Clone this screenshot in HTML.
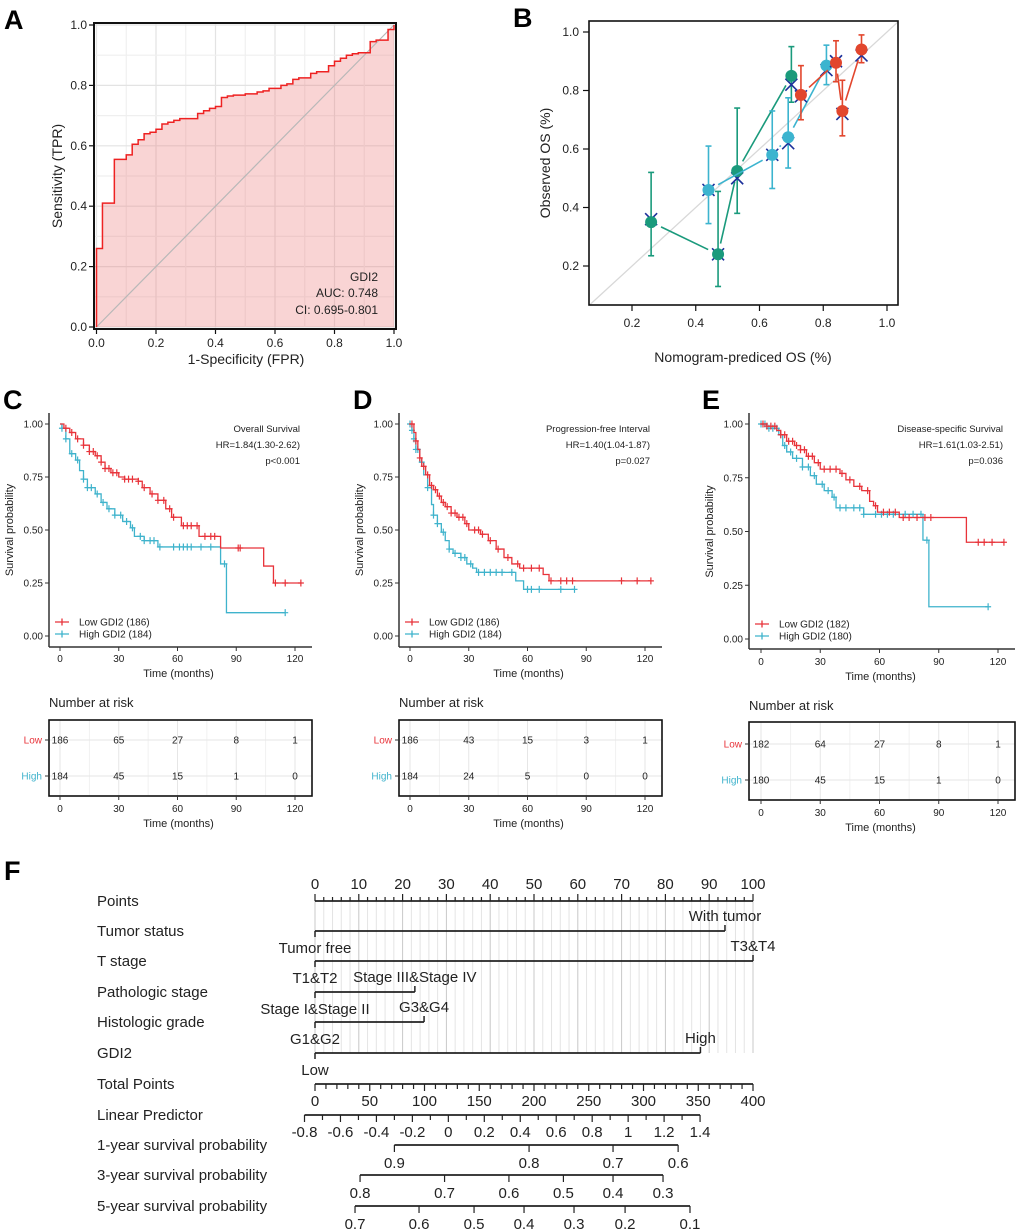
<!DOCTYPE html>
<html><head><meta charset="utf-8">
<style>
html,body{margin:0;padding:0;background:#fff;}
svg{display:block;font-family:"Liberation Sans",Arial,sans-serif;}
.nar{font-family:"Liberation Sans Narrow","Liberation Sans",sans-serif;}
</style></head>
<body>
<svg id="chart" width="1020" height="1232" viewBox="0 0 1020 1232" xmlns="http://www.w3.org/2000/svg">
<rect x="0" y="0" width="1020" height="1232" fill="#fff"/>
<text x="4" y="29" font-size="27" font-weight="bold">A</text>
<text x="513" y="27" font-size="27" font-weight="bold">B</text>
<text x="3" y="409" font-size="27" font-weight="bold">C</text>
<text x="353" y="409" font-size="27" font-weight="bold">D</text>
<text x="702" y="409" font-size="27" font-weight="bold">E</text>
<text x="4" y="880" font-size="27" font-weight="bold">F</text>
</svg>
<script>
// ---------- Panel A data (ROC) ----------
const rocFpr = [0,0.02,0.06,0.10,0.12,0.14,0.16,0.18,0.20,0.22,0.24,0.26,0.28,0.34,0.36,0.38,0.40,0.42,0.44,0.46,0.50,0.54,0.56,0.58,0.60,0.62,0.64,0.66,0.68,0.72,0.74,0.78,0.80,0.82,0.84,0.86,0.88,0.92,0.94,0.98,1.0];
const rocTpr = [0.26,0.41,0.555,0.57,0.605,0.62,0.64,0.645,0.655,0.672,0.678,0.684,0.69,0.707,0.716,0.724,0.73,0.76,0.765,0.768,0.772,0.778,0.782,0.79,0.79,0.80,0.805,0.82,0.825,0.84,0.845,0.865,0.88,0.89,0.90,0.905,0.908,0.945,0.95,0.985,1.0];
const rocTicks = [0,0.2,0.4,0.6,0.8,1.0];
const rocTickLabels = ["0.0","0.2","0.4","0.6","0.8","1.0"];

// ---------- Panel B data (calibration) ----------
const calNames = ["1-year","3-year","5-year"];
const calColors = ["#1a9a7c","#3cb4cf","#e2462d"];
const calPred = [[0.26,0.47,0.53,0.70],[0.44,0.64,0.69,0.81],[0.73,0.84,0.86,0.92]];
const calObs  = [[0.35,0.24,0.525,0.85],[0.46,0.58,0.64,0.885],[0.785,0.895,0.73,0.94]];
const calLo   = [[0.235,0.13,0.38,0.76],[0.345,0.465,0.535,0.82],[0.70,0.83,0.645,0.895]];
const calHi   = [[0.52,0.455,0.74,0.95],[0.61,0.73,0.775,0.955],[0.885,0.97,0.835,0.99]];
const calCorr = [[0.36,0.24,0.50,0.82],[0.46,0.58,0.62,0.87],[0.78,0.90,0.72,0.92]];
const calTicks = [0.2,0.4,0.6,0.8,1.0];
const calTickLabels = ["0.2","0.4","0.6","0.8","1.0"];

// ---------- Panels C-E data (KM) ----------
const kmTicks = [0,30,60,90,120];
const kmYTicks = [0,0.25,0.5,0.75,1.0];
const kmYLabels = ["0.00","0.25","0.50","0.75","1.00"];
// C
const cLowT = [2,5,8,12,15,18,21,23,26,30,33,40,42,46,50,54,57,62,71,82,104,109];
const cLowS = [0.98,0.96,0.93,0.90,0.87,0.85,0.82,0.79,0.77,0.75,0.74,0.73,0.70,0.67,0.64,0.60,0.56,0.52,0.47,0.415,0.33,0.25];
const cLowCens = [3,6,9,12,15,17,19,21,23,25,27,29,33,35,37,40,43,47,50,53,56,58,63,65,67,70,74,77,79,91,92,110,115,123];
const cHighT = [1,3,5,8,10,12,14,18,21,24,28,32,36,38,43,50,82,85];
const cHighS = [0.98,0.93,0.86,0.83,0.78,0.74,0.70,0.67,0.63,0.60,0.57,0.54,0.51,0.47,0.45,0.42,0.34,0.11];
const cHighCens = [1,3,6,9,12,14,16,19,22,25,28,31,34,37,41,43,46,48,51,58,61,63,65,67,72,77,84,115];
const cRiskLow = [186,65,27,8,1];
const cRiskHigh = [184,45,15,1,0];
// D
const dLowT = [2,3,4,5,6,8,10,12,14,16,18,21,24,28,30,36,40,44,48,52,56,68,71];
const dLowS = [0.96,0.92,0.88,0.84,0.80,0.76,0.71,0.69,0.66,0.63,0.61,0.58,0.56,0.53,0.50,0.48,0.45,0.41,0.37,0.34,0.32,0.29,0.26];
const dLowCens = [1,3,5,7,9,11,13,15,17,19,21,23,25,27,29,33,35,37,41,45,50,55,58,62,66,72,77,80,83,108,116,123];
const dHighT = [1,2,3,5,7,9,11,12,14,16,18,20,22,26,29,32,34,54,58];
const dHighS = [0.97,0.93,0.88,0.82,0.76,0.70,0.62,0.57,0.53,0.49,0.45,0.41,0.39,0.37,0.34,0.32,0.30,0.26,0.22];
const dHighCens = [0,1,2,3,4,6,9,12,14,17,20,23,26,28,31,35,38,41,44,47,52,60,62,66,77,84];
const dRiskLow = [186,43,15,3,1];
const dRiskHigh = [184,24,5,0,0];
// E
const eLowT = [3,8,10,13,17,20,23,27,30,40,43,47,51,55,57,59,70,104];
const eLowS = [0.99,0.97,0.95,0.92,0.90,0.88,0.85,0.82,0.79,0.77,0.74,0.71,0.69,0.64,0.62,0.59,0.565,0.45];
const eLowCens = [1,3,5,7,10,12,14,16,18,20,22,24,26,29,32,35,38,41,45,50,54,58,62,65,68,72,75,79,83,86,110,113,117,123];
const eHighT = [3,9,11,13,16,21,25,28,32,36,38,52,82,85];
const eHighS = [0.98,0.95,0.90,0.87,0.84,0.80,0.76,0.72,0.69,0.66,0.61,0.58,0.46,0.15];
const eHighCens = [0,2,4,6,8,10,12,15,18,21,24,27,31,34,37,40,43,47,50,52,58,61,64,67,73,77,81,84,115];
const eRiskLow = [182,64,27,8,1];
const eRiskHigh = [180,45,15,1,0];

// ---------- Panel F data (nomogram) ----------
const nomoRows = ["Tumor status","T stage","Pathologic stage","Histologic grade","GDI2"];
const nomoMaxPts = [93.6,100,22.8,24.9,88];
const nomoHighLbl = ["With tumor","T3&T4","Stage III&Stage IV","G3&G4","High"];
const nomoLowLbl = ["Tumor free","T1&T2","Stage I&Stage II","G1&G2","Low"];
const lpTicks = [-0.8,-0.6,-0.4,-0.2,0,0.2,0.4,0.6,0.8,1,1.2,1.4];
const surv1Vals = [0.9,0.8,0.7,0.6];
const surv1Lp = [-0.30,0.449,0.916,1.278];
const surv3Vals = [0.8,0.7,0.6,0.5,0.4,0.3];
const surv3Lp = [-0.491,-0.021,0.337,0.640,0.916,1.194];
const surv5Vals = [0.7,0.6,0.5,0.4,0.3,0.2,0.1];
const surv5Lp = [-0.519,-0.163,0.143,0.421,0.699,0.983,1.344];

const NS = "http://www.w3.org/2000/svg";
const svg = document.getElementById('chart');
function mk(tag, attrs, parent){
  const e = document.createElementNS(NS, tag);
  for (const k in attrs) e.setAttribute(k, attrs[k]);
  (parent || svg).appendChild(e);
  return e;
}
function tx(x, y, s, size, anchor, fill, parent, cls){
  const e = mk('text', {x:x, y:y, 'font-size':size, 'text-anchor':anchor||'start', fill:fill||'#222'}, parent);
  if (cls) e.setAttribute('class', cls);
  e.textContent = s;
  return e;
}
function ln(x1,y1,x2,y2,stroke,w,parent){
  return mk('line',{x1:x1,y1:y1,x2:x2,y2:y2,stroke:stroke,'stroke-width':w},parent);
}

// ================= Panel A =================
(function(){
  const g = mk('g',{});
  
  
  const ax = f => 96.5 + f*297.5;
  const ay = t => 327 - t*302;
  for (let i=0;i<=10;i++){
    const v = i/10;
    const c = (i%2===0)?'#e3e3e3':'#efefef';
    const gx = ln(ax(v),23,ax(v),329,c,1.2,g);
    
    
    const gy = ln(94,ay(v),396,ay(v),c,1.2,g);
    
    
  }
  let d = 'M'+ax(0)+','+ay(0);
  for (let i=0;i<rocFpr.length;i++){ d += ' H'+ax(rocFpr[i])+' V'+ay(rocTpr[i]); }
  const area = mk('path',{d:d+' V'+ay(0)+' Z',fill:'rgba(236,120,120,0.32)',stroke:'none'},g);
  
  
  const diag = ln(ax(0),ay(0),ax(1),ay(1),'#b8b8b8',1.2,g);
  
  
  const curve = mk('path',{d:d,fill:'none',stroke:'#ee2222','stroke-width':1.5},g);
  
  
  const fr = mk('rect',{x:94,y:23,width:302,height:306,fill:'none',stroke:'#111','stroke-width':2},g);
  
  
  for (let i=0;i<rocTicks.length;i++){
    const v = rocTicks[i];
    const t1 = ln(89,ay(v),94,ay(v),'#111',1.2,g);
    
    
    const l1 = tx(87,ay(v)+4,rocTickLabels[i],12,'end','#222',g);
    
    
    const t2 = ln(ax(v),329,ax(v),334,'#111',1.2,g);
    
    
    const l2 = tx(ax(v),347,rocTickLabels[i],12,'middle','#222',g);
    
    
  }
  const xt = tx(246,364,'1-Specificity (FPR)',14,'middle','#222',g);
  
  
  const yt = tx(0,0,'Sensitivity (TPR)',14,'middle','#222',g);
  yt.setAttribute('transform','translate(62,176) rotate(-90)');
  
  
  const a1 = tx(378,281,'GDI2',12,'end','#222',g);
  
  
  const a2 = tx(378,297,'AUC: 0.748',12,'end','#222',g);
  
  
  const a3 = tx(378,314,'CI: 0.695-0.801',12,'end','#222',g);
  
  
})();

// ================= Panel B =================
(function(){
  const g = mk('g',{});
  
  
  const bx = v => 632 + (v-0.2)*318.75;
  const by = v => 266 - (v-0.2)*292.5;
  const diag = ln(bx(0.065),by(0.065),bx(1.035),by(1.035),'#d8d8d8',1.3,g);
  
  
  for (let s=0;s<calPred.length;s++){
    const col = calColors[s];
    const sg = mk('g',{},g);
    
    
    // connecting lines with gaps
    for (let i=0;i<calPred[s].length-1;i++){
      const x1=bx(calPred[s][i]), y1=by(calObs[s][i]), x2=bx(calPred[s][i+1]), y2=by(calObs[s][i+1]);
      const L = Math.hypot(x2-x1,y2-y1), gap = 11;
      if (L > 2*gap){
        const ux=(x2-x1)/L, uy=(y2-y1)/L;
        const c = ln(x1+ux*gap,y1+uy*gap,x2-ux*gap,y2-uy*gap,col,1.6,sg);
        
        
      }
    }
    for (let i=0;i<calPred[s].length;i++){
      const x=bx(calPred[s][i]);
      const eb = ln(x,by(calLo[s][i]),x,by(calHi[s][i]),col,1.6,sg);
      
      
      const c1 = ln(x-3,by(calLo[s][i]),x+3,by(calLo[s][i]),col,1.6,sg);
      
      
      const c2 = ln(x-3,by(calHi[s][i]),x+3,by(calHi[s][i]),col,1.6,sg);
      
      
      const yc = by(calCorr[s][i]);
      const xa = ln(x-6,yc-6,x+6,yc+6,'#1b2f9a',1.6,sg);
      
      
      const xb = ln(x-6,yc+6,x+6,yc-6,'#1b2f9a',1.6,sg);
      
      
      const pt = mk('circle',{cx:x,cy:by(calObs[s][i]),r:6,fill:col},sg);
      
      
    }
  }
  const fr = mk('rect',{x:589,y:21,width:309,height:284,fill:'none',stroke:'#111','stroke-width':1.6},g);
  
  
  for (let i=0;i<calTicks.length;i++){
    const v = calTicks[i];
    const t1 = ln(bx(v),305,bx(v),311,'#111',1.2,g);
    
    
    const l1 = tx(bx(v),327,calTickLabels[i],12,'middle','#222',g);
    
    
  }
  for (let i=0;i<calTicks.length;i++){
    const v = calTicks[i];
    const t2 = ln(583,by(v),589,by(v),'#111',1.2,g);
    
    
    const l2 = tx(579,by(v)+4,calTickLabels[i],12,'end','#222',g);
    
    
  }
  const xt = tx(743,362,'Nomogram-prediced OS (%)',14,'middle','#222',g);
  
  
  const yt = tx(0,0,'Observed OS (%)',14,'middle','#222',g);
  yt.setAttribute('transform','translate(550,163) rotate(-90)');
  
  
})();

// ================= Panels C-E =================
const RED = '#e8333a', BLUE = '#3fb3cc';
function drawKM(cfg){
  const g = mk('g',{});
  
  
  const kx = t => cfg.x0 + t*(cfg.x120-cfg.x0)/120;
  const ky = s => cfg.yb - s*(cfg.yb-cfg.yt);
  function survAt(T,S,c){ let s=1; for (let i=0;i<T.length;i++){ if (T[i]<=c) s=S[i]; } return s; }
  const series = [[cfg.hT,cfg.hS,cfg.hC,cfg.hEnd,BLUE,'high'],[cfg.lT,cfg.lS,cfg.lC,cfg.lEnd,RED,'low']];
  for (const [T,S,C,end,col,nm] of series){
    let d = 'M'+kx(0)+','+ky(1);
    for (let i=0;i<T.length;i++){ d += ' H'+kx(T[i])+' V'+ky(S[i]); }
    d += ' H'+kx(end);
    const p = mk('path',{d:d,fill:'none',stroke:col,'stroke-width':1.3},g);
    
    
    for (const c of C){
      const y = ky(survAt(T,S,c));
      const cm = mk('path',{d:'M'+(kx(c))+','+(y-3.5)+' V'+(y+3.5)+' M'+(kx(c)-3)+','+y+' H'+(kx(c)+3),stroke:col,'stroke-width':1.2,fill:'none'},g);
      
      
    }
  }
  const axl = ln(cfg.axL,cfg.axT,cfg.axL,cfg.axB,'#333',1.5,g);
  
  
  const axb = ln(cfg.axL,cfg.axB,cfg.axR,cfg.axB,'#333',1.5,g);
  
  
  for (let i=0;i<kmYTicks.length;i++){
    const y = ky(kmYTicks[i]);
    const t = ln(cfg.axL-4,y,cfg.axL,y,'#333',1,g);
    
    
    const l = tx(cfg.axL-6,y+3.5,kmYLabels[i],10,'end','#222',g);
    
    
  }
  for (const v of kmTicks){
    const t = ln(kx(v),cfg.axB,kx(v),cfg.axB+4,'#333',1,g);
    
    
    const l = tx(kx(v),cfg.tickY,String(v),10,'middle','#222',g);
    
    
  }
  const xt = tx((cfg.x0+cfg.x120)/2+1,cfg.titleY,'Time (months)',11,'middle','#222',g);
  
  
  const yt = tx(0,0,'Survival probability',11,'middle','#222',g);
  yt.setAttribute('transform','translate('+(cfg.axL-36)+','+((cfg.yt+cfg.yb)/2)+') rotate(-90)');
  
  
  for (let i=0;i<3;i++){
    const a = tx(cfg.annX,cfg.annY+i*16,cfg.ann[i],9.5,'end','#222',g);
    
    
  }
  const legCols = [RED,BLUE];
  for (let i=0;i<2;i++){
    const y = cfg.legY + i*12;
    const lg = mk('path',{d:'M'+(cfg.axL+6)+','+y+' H'+(cfg.axL+20)+' M'+(cfg.axL+13)+','+(y-3.5)+' V'+(y+3.5),stroke:legCols[i],'stroke-width':1.3,fill:'none'},g);
    
    
    const lt = tx(cfg.axL+30,y+3.5,cfg.leg[i],10,'start','#222',g);
    
    
  }
  // risk table
  const rt = tx(cfg.axL,cfg.riskTitleY,'Number at risk',13,'start','#222',g);
  
  
  for (let t=0;t<=120;t+=15){
    const gl = ln(kx(t),cfg.bT,kx(t),cfg.bB,t%30===0?'#e6e6e6':'#f0f0f0',1,g);
    
    
  }
  for (const y of cfg.rowY){
    const gl = ln(cfg.axL,y,cfg.axR,y,'#e6e6e6',1,g);
    
    
  }
  const box = mk('rect',{x:cfg.axL,y:cfg.bT,width:cfg.axR-cfg.axL,height:cfg.bB-cfg.bT,fill:'none',stroke:'#111','stroke-width':1.6},g);
  
  
  const rows = [['Low',RED,cfg.rLow],['High',BLUE,cfg.rHigh]];
  for (let r=0;r<2;r++){
    const y = cfg.rowY[r];
    const rl = tx(cfg.axL-7,y+3.5,rows[r][0],10,'end',rows[r][1],g);
    
    
    const tk = ln(cfg.axL-4,y,cfg.axL,y,'#333',1,g);
    
    
    for (let i=0;i<kmTicks.length;i++){
      const n = tx(kx(kmTicks[i]),y+3.5,String(rows[r][2][i]),10,'middle','#222',g);
      
      
    }
  }
  for (const v of kmTicks){
    const t = ln(kx(v),cfg.bB,kx(v),cfg.bB+4,'#333',1,g);
    
    
    const l = tx(kx(v),cfg.rTickY,String(v),10,'middle','#222',g);
    
    
  }
  const rx = tx((cfg.x0+cfg.x120)/2+1,cfg.rTitleY,'Time (months)',11,'middle','#222',g);
  
  
}
drawKM({name:'km-overall-survival',x0:60,x120:295,yt:424,yb:636,axL:49,axT:413,axB:647,axR:312,tickY:662,titleY:677,
  annX:300,annY:432,ann:['Overall Survival','HR=1.84(1.30-2.62)','p<0.001'],legY:622,leg:['Low GDI2 (186)','High GDI2 (184)'],
  lT:cLowT,lS:cLowS,lC:cLowCens,lEnd:123,hT:cHighT,hS:cHighS,hC:cHighCens,hEnd:115,
  riskTitleY:707,bT:720,bB:796,rowY:[740,776],rLow:cRiskLow,rHigh:cRiskHigh,rTickY:812,rTitleY:827});
drawKM({name:'km-progression-free-interval',x0:410,x120:645,yt:424,yb:636,axL:399,axT:413,axB:647,axR:662,tickY:662,titleY:677,
  annX:650,annY:432,ann:['Progression-free Interval','HR=1.40(1.04-1.87)','p=0.027'],legY:622,leg:['Low GDI2 (186)','High GDI2 (184)'],
  lT:dLowT,lS:dLowS,lC:dLowCens,lEnd:123,hT:dHighT,hS:dHighS,hC:dHighCens,hEnd:84,
  riskTitleY:707,bT:720,bB:796,rowY:[740,776],rLow:dRiskLow,rHigh:dRiskHigh,rTickY:812,rTitleY:827});
drawKM({name:'km-disease-specific-survival',x0:761,x120:998,yt:424,yb:639,axL:749,axT:413,axB:649,axR:1015,tickY:665,titleY:680,
  annX:1003,annY:432,ann:['Disease-specific Survival','HR=1.61(1.03-2.51)','p=0.036'],legY:624,leg:['Low GDI2 (182)','High GDI2 (180)'],
  lT:eLowT,lS:eLowS,lC:eLowCens,lEnd:123,hT:eHighT,hS:eHighS,hC:eHighCens,hEnd:115,
  riskTitleY:710,bT:722,bB:800,rowY:[744,780],rLow:eRiskLow,rHigh:eRiskHigh,rTickY:816,rTitleY:831});

// ================= Panel F =================
(function(){
  const g = mk('g',{class:'nar'});
  
  
  const px = p => 315 + p*4.38;       // points axis
  const tp = t => 315 + t*438/400;    // total points
  const lp = v => 304.5 + (v+0.8)*179.8; // linear predictor
  const FS = 15;
  const rowLabels = ['Points','Tumor status','T stage','Pathologic stage','Histologic grade','GDI2','Total Points','Linear Predictor','1-year survival probability','3-year survival probability','5-year survival probability'];
  const rowY = [901,931,961,992,1022,1053,1084,1115,1145,1175,1206];
  for (let i=0;i<rowLabels.length;i++){
    const t = tx(97,rowY[i]+5,rowLabels[i],FS,'start','#222',g);
    
    
  }
  // grid lines
  for (let p=0;p<=100;p+=2){
    const gl = ln(px(p),901,px(p),1053,p%10===0?'#c8c8c8':'#e4e4e4',1,g);
    
    
  }
  // points axis
  const pa = ln(px(0),901,px(100),901,'#222',1.8,g);
  
  
  for (let p=0;p<=100;p+=2){
    const t = ln(px(p),901,px(p),p%10===0?894:897,'#222',1.2,g);
    
    
    if (p%10===0){
      const l = tx(px(p),889,String(p),FS,'middle','#222',g);
      
      
    }
  }
  // covariate rows
  for (let i=0;i<nomoRows.length;i++){
    const y = rowY[i+1];
    const x2 = px(nomoMaxPts[i]);
    const l = ln(px(0),y,x2,y,'#222',1.8,g);
    
    
    const t1 = ln(px(0),y,px(0),y+6,'#222',1.5,g);
    
    
    const t2 = ln(x2,y,x2,y-6,'#222',1.5,g);
    
    
    const hi = tx(x2,y-10,nomoHighLbl[i],FS,'middle','#222',g);
    
    
    const lo = tx(px(0),y+22,nomoLowLbl[i],FS,'middle','#222',g);
    
    
  }
  // total points
  const ta = ln(tp(0),1084,tp(400),1084,'#222',1.8,g);
  
  
  for (let t=0;t<=400;t+=10){
    const k = ln(tp(t),1084,tp(t),t%50===0?1091:1089,'#222',1.2,g);
    
    
    if (t%50===0){
      const l = tx(tp(t),1106,String(t),FS,'middle','#222',g);
      
      
    }
  }
  // linear predictor
  const la = ln(lp(-0.8),1115,lp(1.4),1115,'#222',1.8,g);
  
  
  for (let i=0;i<=22;i++){
    const v = -0.8 + i*0.1;
    const k = ln(lp(v),1115,lp(v),i%2===0?1122:1120,'#222',1.2,g);
    
    
  }
  for (const v of lpTicks){
    const l = tx(lp(v),1137,String(v),FS,'middle','#222',g);
    
    
  }
  // survival scales
  const sv = [[surv1Vals,surv1Lp,1145,'1-year'],[surv3Vals,surv3Lp,1175,'3-year'],[surv5Vals,surv5Lp,1206,'5-year']];
  for (const [vals,lps,y,nm] of sv){
    const a = ln(lp(lps[0]),y,lp(lps[lps.length-1]),y,'#222',1.8,g);
    
    
    for (let i=0;i<vals.length;i++){
      const k = ln(lp(lps[i]),y,lp(lps[i]),y+7,'#222',1.2,g);
      
      
      const l = tx(lp(lps[i]),y+23,String(vals[i]),FS,'middle','#222',g);
      
      
    }
  }
})();
</script>
</body></html>
